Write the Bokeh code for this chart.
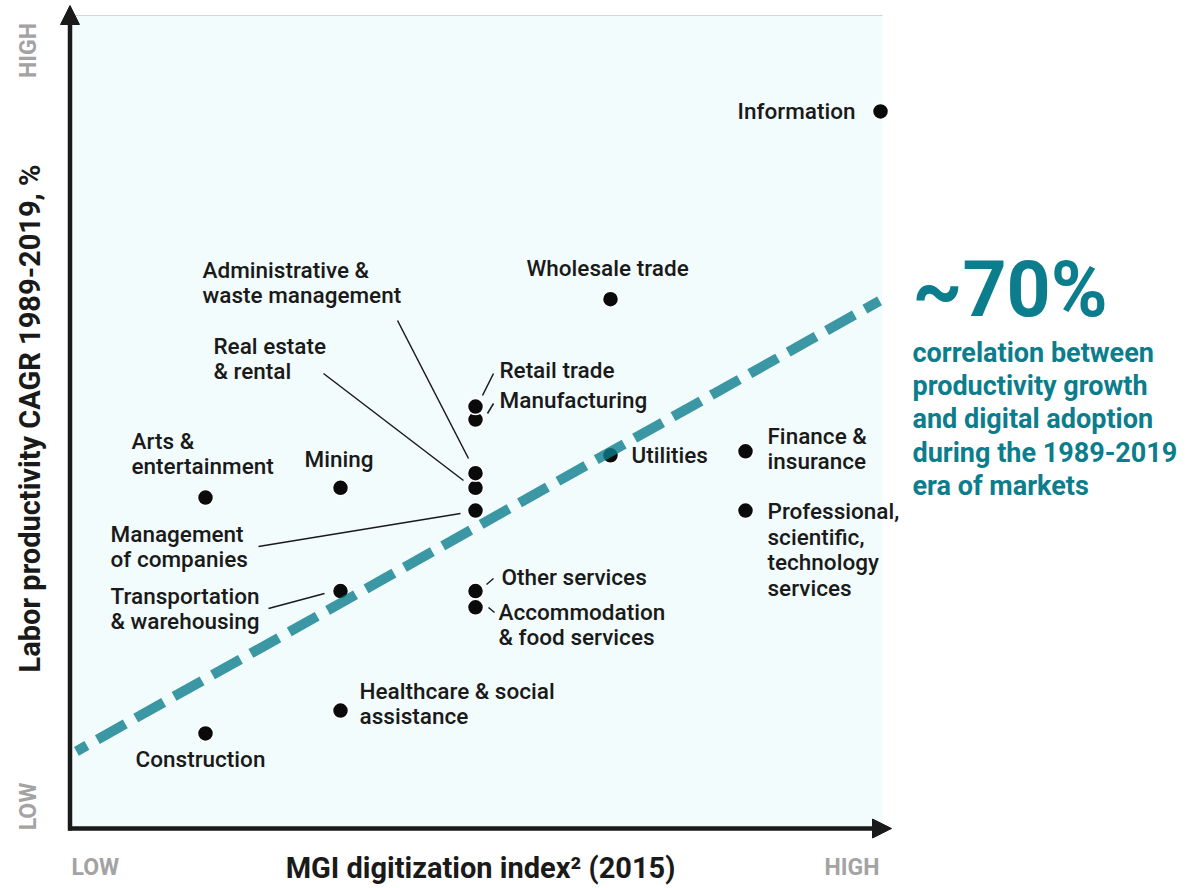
from bokeh.plotting import figure
from bokeh.models import ColumnDataSource, LabelSet, Label, Arrow, NormalHead, BoxAnnotation, Range1d
from bokeh.embed import file_html
from bokeh.resources import INLINE
from bokeh.core.properties import value
import math

# ---------------- data ----------------
sectors = ["Information", "Wholesale trade", "Retail trade", "Manufacturing", "Utilities",
           "Finance & insurance", "Professional, scientific, technology services",
           "Administrative & waste management", "Real estate & rental", "Management of companies",
           "Mining", "Arts & entertainment", "Transportation & warehousing", "Other services",
           "Accommodation & food services", "Healthcare & social assistance", "Construction"]
label_text = ["Information", "Wholesale trade", "Retail trade", "Manufacturing", "Utilities",
              "Finance &\ninsurance", "Professional,\nscientific,\ntechnology\nservices",
              "Administrative &\nwaste management", "Real estate\n& rental", "Management\nof companies",
              "Mining", "Arts &\nentertainment", "Transportation\n& warehousing", "Other services",
              "Accommodation\n& food services", "Healthcare & social\nassistance", "Construction"]
digitization = [6, 4, 3, 3, 4, 5, 5, 3, 3, 3, 2, 1, 2, 3, 3, 2, 1]          # MGI digitization tier (low -> high)
productivity = [88.2, 65.1, 51.9, 50.3, 45.9, 46.4, 39.1, 43.7, 41.9, 39.1,
                41.9, 40.7, 29.2, 29.2, 27.2, 14.5, 11.7]                   # relative CAGR position (low -> high)
trend_x = [0.044, 5.993]
trend_y = [9.5, 64.9]
x_ticks = ["LOW", "HIGH"]
y_ticks = ["LOW", "HIGH"]
x_title = "MGI digitization index\u00b2 (2015)"
y_title = "Labor productivity CAGR 1989-2019, %"
headline = "~70%"
subtext = "correlation between\nproductivity growth\nand digital adoption\nduring the 1989-2019\nera of markets"

# ---------------- layout (page pixels) ----------------
W, H = 1204, 888
X0_PAGE, Y0_PAGE = 70, 828      # where data (0,0) sits on the page
PX_X, PX_Y = 135.0, 8.13        # pixels per data unit
X_MAX = 812 / PX_X
Y_MAX = 100.0

def dx(px):
    return (px - X0_PAGE) / PX_X

def dy(py):
    return (Y0_PAGE - py) / PX_Y

# label anchors: (left x, vertical centre y) in page px
label_pos = {
    "Information": (855, 110),
    "Wholesale trade": (526, 267),
    "Retail trade": (499, 369),
    "Manufacturing": (499, 399),
    "Utilities": (631, 454),
    "Finance & insurance": (767, 448),
    "Professional, scientific, technology services": (767, 549),
    "Administrative & waste management": (202, 282),
    "Real estate & rental": (213, 358),
    "Management of companies": (110, 546),
    "Mining": (304, 458),
    "Arts & entertainment": (131, 453),
    "Transportation & warehousing": (110, 608),
    "Other services": (501, 576),
    "Accommodation & food services": (498, 624),
    "Healthcare & social assistance": (359, 703),
    "Construction": (135, 758),
}
leaders = {
    "Administrative & waste management": (397, 320, 468, 458),
    "Real estate & rental": (323, 373, 463, 480),
    "Management of companies": (258, 546, 460, 513),
    "Transportation & warehousing": (268, 608, 324, 593),
    "Retail trade": (493, 373, 482, 395),
    "Manufacturing": (493, 403, 487, 413),
    "Other services": (493, 578, 486, 584),
    "Accommodation & food services": (488, 607, 494, 612),
}

INK = "#1a1a1a"
TEAL = "#0b7d8c"
GREY = "#a3a3a3"
FONT = "Roboto"
FONT_M = "Roboto Medium"

p = figure(width=W, height=H, title=None,
           x_range=Range1d(-X0_PAGE / PX_X, (W - X0_PAGE) / PX_X),
           y_range=Range1d(-(H - Y0_PAGE) / PX_Y, Y0_PAGE / PX_Y),
           x_axis_type=None, y_axis_type=None,
           toolbar_location=None, output_backend="svg", min_border=0)
p.outline_line_color = None
p.background_fill_color = "white"
p.border_fill_color = "white"

# plot area
p.add_layout(BoxAnnotation(left=0, right=X_MAX, bottom=0, top=Y_MAX, fill_color="#f3fcfc",
                           fill_alpha=1, line_color=None, level="underlay"))
p.line([0, X_MAX], [Y_MAX, Y_MAX], line_color="#d6d6d6", line_width=1)

# leader lines
lsrc = ColumnDataSource(dict(
    x0=[dx(v[0]) for v in leaders.values()], y0=[dy(v[1]) for v in leaders.values()],
    x1=[dx(v[2]) for v in leaders.values()], y1=[dy(v[3]) for v in leaders.values()]))
p.segment("x0", "y0", "x1", "y1", source=lsrc, line_color=INK, line_width=1.5)

# points (lower ones first so upper ones sit on top)
order = sorted(range(len(sectors)), key=lambda i: productivity[i])
psrc = ColumnDataSource(dict(x=[digitization[i] for i in order], y=[productivity[i] for i in order],
                             name=[sectors[i] for i in order]))
p.scatter("x", "y", source=psrc, size=16, fill_color="#0a0a0a", line_color="white", line_width=1.5)

# trend line
p.line(trend_x, trend_y, line_color=TEAL, line_alpha=0.8, line_width=10,
       line_dash="32 12", line_dash_offset=20, line_cap="butt")

# point labels
left_idx = [i for i in range(len(sectors)) if sectors[i] != "Information"]
right_idx = [i for i in range(len(sectors)) if sectors[i] == "Information"]
for idx, align in ((left_idx, "left"), (right_idx, "right")):
    src = ColumnDataSource(dict(
        x=[dx(label_pos[sectors[i]][0]) for i in idx],
        y=[dy(label_pos[sectors[i]][1]) for i in idx],
        t=[label_text[i] for i in idx]))
    p.add_layout(LabelSet(x="x", y="y", text="t", source=src, text_align=align,
                          text_baseline="middle", text_font=value(FONT_M),
                          text_font_size="22.5px", text_color=INK, text_line_height=0.987))

# axes arrows
p.add_layout(Arrow(end=NormalHead(size=19, fill_color=INK, line_color=INK, line_width=1),
                   x_start=dx(69.5), y_start=dy(830), x_end=dx(69.5), y_end=dy(5),
                   line_color=INK, line_width=4.5))
p.add_layout(Arrow(end=NormalHead(size=19, fill_color=INK, line_color=INK, line_width=1),
                   x_start=dx(67.5), y_start=dy(828), x_end=dx(891), y_end=dy(828),
                   line_color=INK, line_width=4.5))

# axis texts
def lab(text, x, y, size, color, align="left", angle=0.0, bold=True, lh=1.2, font=FONT):
    p.add_layout(Label(x=dx(x), y=dy(y), text=text, text_font=font, text_font_size=size,
                       text_font_style="bold" if bold else "normal", text_color=color,
                       text_align=align, text_baseline="middle", angle=angle,
                       text_line_height=lh))

lab(x_ticks[0], 71, 867, "23px", GREY)
lab(x_ticks[1], 879, 867, "23px", GREY, align="right")
lab(y_ticks[1], 27.5, 50, "23px", GREY, align="center", angle=math.pi / 2)
lab(y_ticks[0], 27.5, 806, "23px", GREY, align="center", angle=math.pi / 2)
lab(x_title, 480, 867, "29px", INK, align="center")
lab(y_title, 29.5, 418, "29px", INK, align="center", angle=math.pi / 2)

# callout
lab(headline, 912, 289, "77px", TEAL)
lab(subtext, 912, 419, "27px", TEAL, lh=1.044)

open("out.html", "w").write(file_html(p, INLINE))
